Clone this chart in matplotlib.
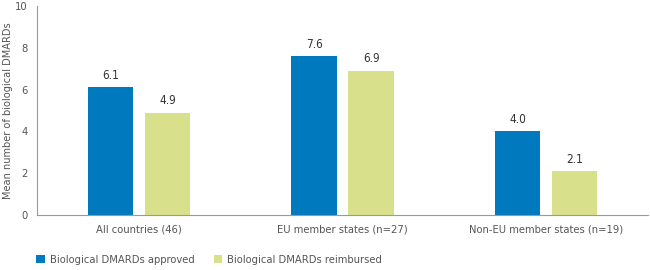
import matplotlib
matplotlib.use("Agg")
import matplotlib.pyplot as plt
import numpy as np

categories = ["All countries (46)", "EU member states (n=27)", "Non-EU member states (n=19)"]
approved = [6.1, 7.6, 4.0]
reimbursed = [4.9, 6.9, 2.1]
series_names = ["Biological DMARDs approved", "Biological DMARDs reimbursed"]
yticks = [0, 2, 4, 6, 8, 10]

blue = "#0079BE"
green = "#D8E08C"
grey = "#555555"

plt.rcParams['font.family'] = ['DejaVu Sans']
plt.rcParams['font.stretch'] = 'condensed'

fig = plt.figure(figsize=(6.5, 2.7), dpi=100)
ax = fig.add_axes([0.057, 0.204, 0.94, 0.774])

x = np.arange(len(categories))
w = 0.222
off = 0.14
b1 = ax.bar(x - off, approved, w, color=blue, label=series_names[0])
b2 = ax.bar(x + off, reimbursed, w, color=green, label=series_names[1])
for bars, vals in ((b1, approved), (b2, reimbursed)):
    for r, v in zip(bars, vals):
        ax.text(r.get_x() + r.get_width() / 2, v + 0.25, f"{v:.1f}", ha="center", va="bottom",
                fontsize=8.5, color="#333333")

ax.set_xlim(-0.5, 2.5)
ax.set_ylim(0, 10)
ax.set_yticks(yticks)
ax.set_xticks(x)
ax.set_xticklabels(categories)
ax.tick_params(axis="both", length=0, labelsize=8, labelcolor=grey)
ax.tick_params(axis="x", pad=7)
ax.tick_params(axis="y", pad=7)
fig.text(8 / 650, 0.59, "Mean number of biological DMARDs", rotation=90, ha="center", va="center",
         fontsize=7.8, color=grey)
for s in ("top", "right"):
    ax.spines[s].set_visible(False)
for s in ("left", "bottom"):
    ax.spines[s].set_color("#999999")
    ax.spines[s].set_linewidth(0.8)

fig.legend(handles=[b1, b2], labels=series_names, loc="center left",
           bbox_to_anchor=(36 / 650, 10 / 270), borderpad=0, borderaxespad=0,
           ncol=2, frameon=False, fontsize=8, handlelength=0.8, handleheight=0.8,
           handletextpad=0.45, columnspacing=1.7, labelcolor=grey)

fig.savefig("out.png", dpi=100)
